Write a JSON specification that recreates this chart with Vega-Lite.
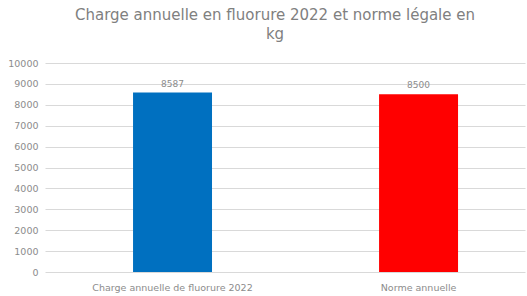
{
  "$schema": "https://vega.github.io/schema/vega-lite/v6.json",
  "autosize": {"type": "none"},
  "padding": {"left": 45, "top": 63, "right": 2, "bottom": 24},
  "width": 480,
  "height": 209,
  "background": "white",
  "title": {
    "text": ["Charge annuelle en fluorure 2022 et norme légale en", "kg"],
    "font": "DejaVu Sans",
    "fontSize": 15,
    "fontWeight": "normal",
    "color": "#808080",
    "anchor": "middle",
    "frame": "group",
    "dx": -10,
    "offset": 16,
    "lineHeight": 19
  },
  "data": {
    "values": [
      {"categorie": "Charge annuelle de fluorure 2022", "valeur": 8587, "couleur": "Charge annuelle de fluorure 2022"},
      {"categorie": "Norme annuelle", "valeur": 8500, "couleur": "Norme annuelle"}
    ]
  },
  "config": {
    "view": {"stroke": null},
    "font": "DejaVu Sans"
  },
  "encoding": {
    "x": {
      "field": "categorie",
      "type": "nominal",
      "sort": null,
      "scale": {"paddingInner": 0.679, "paddingOuter": 0.315, "align": 0.568},
      "axis": {
        "title": null,
        "labelAngle": 0,
        "labelFontSize": 9.5,
        "labelColor": "#8c8c8c",
        "labelPadding": 10,
        "domain": false,
        "ticks": false
      }
    },
    "y": {
      "field": "valeur",
      "type": "quantitative",
      "scale": {"domain": [0, 10000], "nice": false},
      "axis": {
        "title": null,
        "values": [0, 1000, 2000, 3000, 4000, 5000, 6000, 7000, 8000, 9000, 10000],
        "format": "d",
        "labelFontSize": 9.5,
        "labelColor": "#8c8c8c",
        "labelPadding": 7,
        "domain": false,
        "ticks": false,
        "gridColor": "#d9d9d9",
        "gridWidth": 1
      }
    }
  },
  "layer": [
    {
      "mark": {"type": "bar"},
      "encoding": {
        "color": {
          "field": "couleur",
          "type": "nominal",
          "scale": {"domain": ["Charge annuelle de fluorure 2022", "Norme annuelle"], "range": ["#0070C0", "#FF0000"]},
          "legend": null
        }
      }
    },
    {
      "mark": {"type": "text", "dy": -9, "fontSize": 9, "color": "#8c8c8c"},
      "encoding": {
        "text": {"field": "valeur", "type": "quantitative", "format": "d"}
      }
    }
  ]
}
